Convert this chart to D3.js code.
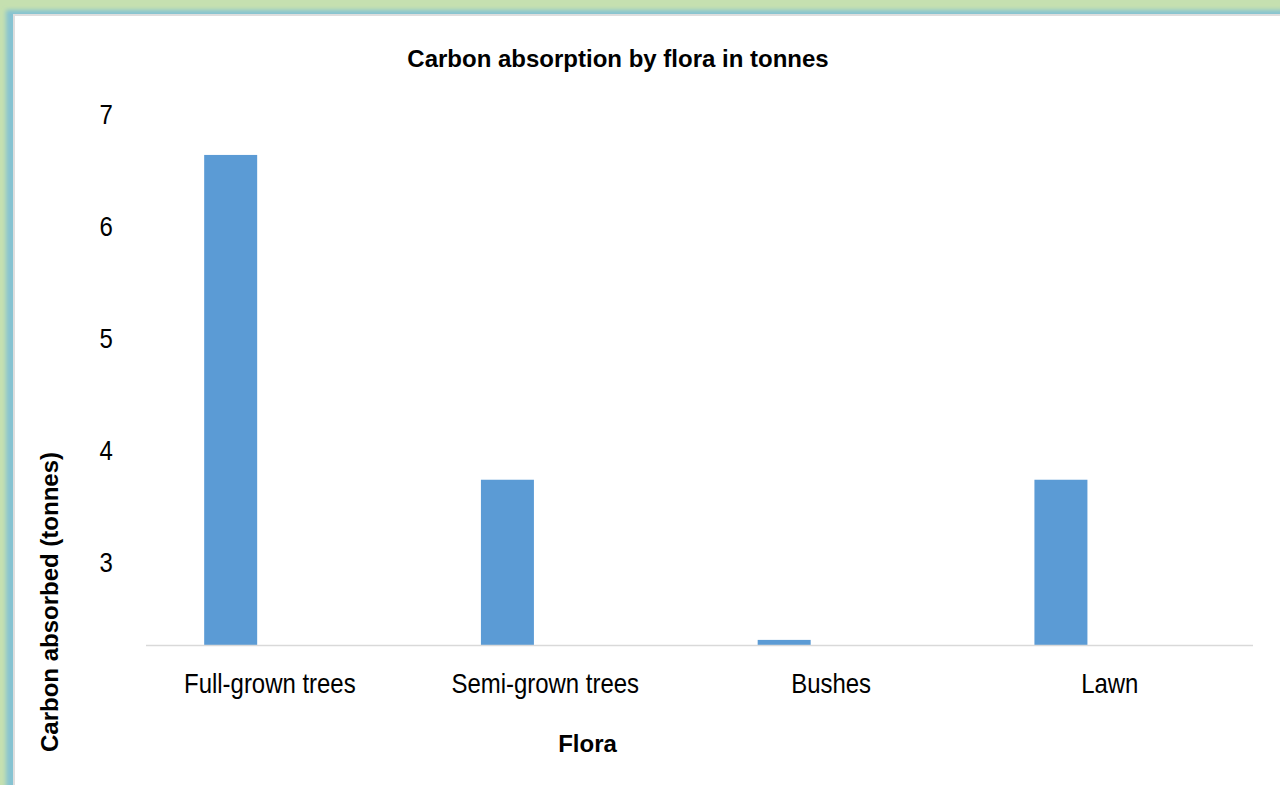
<!DOCTYPE html>
<html>
<head>
<meta charset="utf-8">
<script src="https://cdn.jsdelivr.net/npm/d3@7"></script>
<style>
  html, body { margin: 0; padding: 0; background: #ffffff; overflow: hidden; }
  svg { display: block; }
  text { font-family: "Liberation Sans", Arial, sans-serif; fill: #000; }
</style>
</head>
<body>
<script>
// ---- data ----
const categories = ["Full-grown trees", "Semi-grown trees", "Bushes", "Lawn"];
const values = [6.63, 3.73, 2.30, 3.73];
const seriesNames = ["Carbon absorbed"];
const yTicks = [2, 3, 4, 5, 6, 7];
const titleText = "Carbon absorption by flora in tonnes";
const xTitleText = "Flora";
const yTitleText = "Carbon absorbed (tonnes)";

// ---- layout ----
const W = 1280, H = 785;
const plotLeft = 146, plotRight = 1253, plotBottom = 645.5;
const squeeze = 0.855;

const svg = d3.select("body").append("svg").attr("width", W).attr("height", H);
const defs = svg.append("defs");
defs.append("filter").attr("id", "soft").attr("x", "-5%").attr("y", "-5%").attr("width", "110%").attr("height", "110%")
  .append("feGaussianBlur").attr("stdDeviation", 2.2);
defs.append("clipPath").attr("id", "plotClip").append("rect")
  .attr("x", 0).attr("y", 0).attr("width", W).attr("height", plotBottom);
defs.append("clipPath").attr("id", "tickClip").append("rect")
  .attr("x", -W).attr("y", 0).attr("width", 2 * W).attr("height", 665);

// ---- frame ----
svg.append("rect").attr("width", W).attr("height", H).attr("fill", "#c5e0b0");
svg.append("rect").attr("x", 6).attr("y", 10).attr("width", W + 40).attr("height", H + 40)
  .attr("fill", "#86c3d2").attr("filter", "url(#soft)");
svg.append("rect").attr("x", 13).attr("y", 14).attr("width", W).attr("height", H).attr("fill", "#dedede");
svg.append("rect").attr("x", 15).attr("y", 16).attr("width", W).attr("height", H).attr("fill", "#ffffff");

// ---- scales ----
const x0 = d3.scaleBand().domain(categories).range([plotLeft, plotRight]).padding(0);
const x1 = d3.scaleBand().domain(seriesNames).range([0, x0.bandwidth()])
  .paddingInner(0).paddingOuter(2.111).align(0.26);
const y = d3.scaleLinear().domain([2, 7]).range([673.5, 113.5]);

// ---- bars ----
const data = categories.map((c, i) => ({ cat: c, series: seriesNames[0], v: values[i] }));
svg.append("g").attr("clip-path", "url(#plotClip)")
  .selectAll("rect").data(data).join("rect")
  .attr("x", d => x0(d.cat) + x1(d.series))
  .attr("y", d => y(d.v))
  .attr("width", x1.bandwidth())
  .attr("height", d => y(2) - y(d.v))
  .attr("fill", "#5b9bd5");

// ---- x axis ----
const xAxis = svg.append("g").attr("transform", `translate(0,${plotBottom})`)
  .call(d3.axisBottom(x0).tickSize(0).tickPadding(0));
xAxis.select(".domain").remove();
xAxis.append("line").attr("x1", plotLeft).attr("x2", plotRight).attr("y1", 0).attr("y2", 0)
  .attr("stroke", "#d9d9d9").attr("stroke-width", 1.4);
xAxis.selectAll(".tick text")
  .attr("font-size", 28).attr("font-family", "'Liberation Sans', Arial, sans-serif")
  .attr("fill", "#000").attr("dy", null).attr("y", 47.8)
  .each(function () {
    const w = this.getComputedTextLength();
    d3.select(this).attr("text-anchor", "start").attr("x", -w / 2)
      .attr("textLength", w * squeeze).attr("lengthAdjust", "spacingAndGlyphs");
  });

// ---- y axis ----
const yAxis = svg.append("g").attr("transform", "translate(115,0)").attr("clip-path", "url(#tickClip)")
  .call(d3.axisLeft(y).tickValues(yTicks).tickFormat(d3.format("d")).tickSize(0).tickPadding(0));
yAxis.select(".domain").remove();
yAxis.selectAll(".tick text")
  .attr("font-size", 28).attr("font-family", "'Liberation Sans', Arial, sans-serif")
  .attr("fill", "#000").attr("dy", null).attr("y", 10)
  .each(function () {
    const w = this.getComputedTextLength();
    d3.select(this).attr("text-anchor", "start").attr("x", -w)
      .attr("textLength", w * squeeze).attr("lengthAdjust", "spacingAndGlyphs");
  });

// ---- titles ----
svg.append("text").attr("x", 618).attr("y", 67).attr("text-anchor", "middle")
  .attr("font-size", 24).attr("font-weight", "bold").text(titleText);
svg.append("text").attr("x", 587.5).attr("y", 752).attr("text-anchor", "middle")
  .attr("font-size", 24).attr("font-weight", "bold").text(xTitleText);
svg.append("text").attr("transform", "translate(58,602) rotate(-90)").attr("text-anchor", "middle")
  .attr("font-size", 24).attr("font-weight", "bold").text(yTitleText);
</script>
</body>
</html>
